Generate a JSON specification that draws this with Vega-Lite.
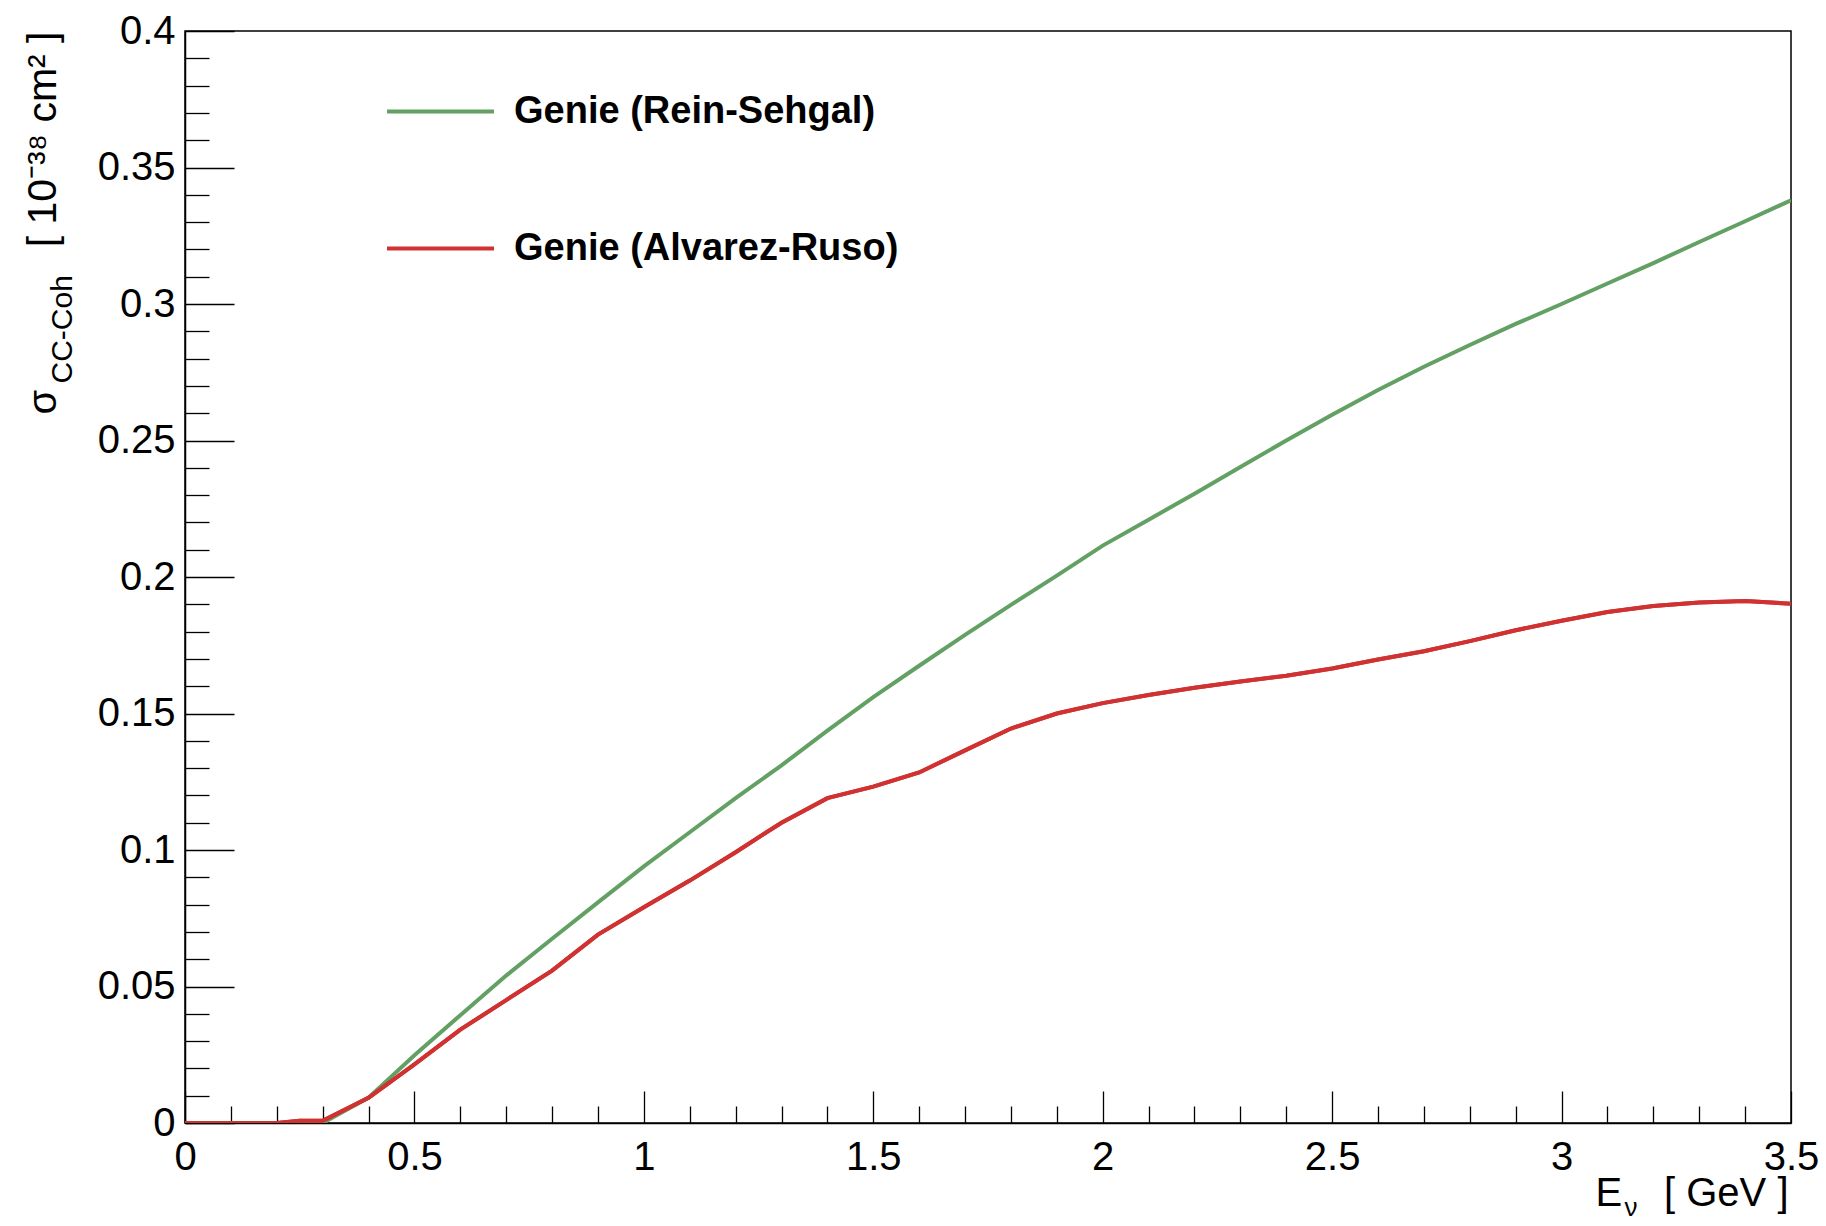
{
  "$schema": "https://vega.github.io/schema/vega-lite/v6.json",
  "width": 1606,
  "height": 1092,
  "autosize": "none",
  "padding": {"left": 185, "top": 31, "right": 35, "bottom": 103},
  "background": "white",
  "data": {
    "values": [
      {"E": 0.0, "sigma": 0.0, "model": "Genie (Rein-Sehgal)"},
      {"E": 0.1, "sigma": 0.0, "model": "Genie (Rein-Sehgal)"},
      {"E": 0.2, "sigma": 0.0, "model": "Genie (Rein-Sehgal)"},
      {"E": 0.3, "sigma": 0.0, "model": "Genie (Rein-Sehgal)"},
      {"E": 0.4, "sigma": 0.0093, "model": "Genie (Rein-Sehgal)"},
      {"E": 0.5, "sigma": 0.0248, "model": "Genie (Rein-Sehgal)"},
      {"E": 0.6, "sigma": 0.0395, "model": "Genie (Rein-Sehgal)"},
      {"E": 0.7, "sigma": 0.0540, "model": "Genie (Rein-Sehgal)"},
      {"E": 0.8, "sigma": 0.0675, "model": "Genie (Rein-Sehgal)"},
      {"E": 0.9, "sigma": 0.0808, "model": "Genie (Rein-Sehgal)"},
      {"E": 1.0, "sigma": 0.0940, "model": "Genie (Rein-Sehgal)"},
      {"E": 1.1, "sigma": 0.1065, "model": "Genie (Rein-Sehgal)"},
      {"E": 1.2, "sigma": 0.1190, "model": "Genie (Rein-Sehgal)"},
      {"E": 1.3, "sigma": 0.1310, "model": "Genie (Rein-Sehgal)"},
      {"E": 1.4, "sigma": 0.1437, "model": "Genie (Rein-Sehgal)"},
      {"E": 1.5, "sigma": 0.1560, "model": "Genie (Rein-Sehgal)"},
      {"E": 1.6, "sigma": 0.1675, "model": "Genie (Rein-Sehgal)"},
      {"E": 1.7, "sigma": 0.1788, "model": "Genie (Rein-Sehgal)"},
      {"E": 1.8, "sigma": 0.1898, "model": "Genie (Rein-Sehgal)"},
      {"E": 1.9, "sigma": 0.2005, "model": "Genie (Rein-Sehgal)"},
      {"E": 2.0, "sigma": 0.2115, "model": "Genie (Rein-Sehgal)"},
      {"E": 2.1, "sigma": 0.2210, "model": "Genie (Rein-Sehgal)"},
      {"E": 2.2, "sigma": 0.2305, "model": "Genie (Rein-Sehgal)"},
      {"E": 2.3, "sigma": 0.2403, "model": "Genie (Rein-Sehgal)"},
      {"E": 2.4, "sigma": 0.2500, "model": "Genie (Rein-Sehgal)"},
      {"E": 2.5, "sigma": 0.2594, "model": "Genie (Rein-Sehgal)"},
      {"E": 2.6, "sigma": 0.2685, "model": "Genie (Rein-Sehgal)"},
      {"E": 2.7, "sigma": 0.2770, "model": "Genie (Rein-Sehgal)"},
      {"E": 2.8, "sigma": 0.2850, "model": "Genie (Rein-Sehgal)"},
      {"E": 2.9, "sigma": 0.2927, "model": "Genie (Rein-Sehgal)"},
      {"E": 3.0, "sigma": 0.3000, "model": "Genie (Rein-Sehgal)"},
      {"E": 3.1, "sigma": 0.3075, "model": "Genie (Rein-Sehgal)"},
      {"E": 3.2, "sigma": 0.3150, "model": "Genie (Rein-Sehgal)"},
      {"E": 3.3, "sigma": 0.3227, "model": "Genie (Rein-Sehgal)"},
      {"E": 3.4, "sigma": 0.3303, "model": "Genie (Rein-Sehgal)"},
      {"E": 3.5, "sigma": 0.3380, "model": "Genie (Rein-Sehgal)"},
      {"E": 0.0, "sigma": 0.0, "model": "Genie (Alvarez-Ruso)"},
      {"E": 0.1, "sigma": 0.0, "model": "Genie (Alvarez-Ruso)"},
      {"E": 0.2, "sigma": 0.0, "model": "Genie (Alvarez-Ruso)"},
      {"E": 0.25, "sigma": 0.0008, "model": "Genie (Alvarez-Ruso)"},
      {"E": 0.3, "sigma": 0.0008, "model": "Genie (Alvarez-Ruso)"},
      {"E": 0.4, "sigma": 0.0092, "model": "Genie (Alvarez-Ruso)"},
      {"E": 0.5, "sigma": 0.0215, "model": "Genie (Alvarez-Ruso)"},
      {"E": 0.6, "sigma": 0.0342, "model": "Genie (Alvarez-Ruso)"},
      {"E": 0.7, "sigma": 0.0450, "model": "Genie (Alvarez-Ruso)"},
      {"E": 0.8, "sigma": 0.0558, "model": "Genie (Alvarez-Ruso)"},
      {"E": 0.9, "sigma": 0.0690, "model": "Genie (Alvarez-Ruso)"},
      {"E": 1.0, "sigma": 0.0790, "model": "Genie (Alvarez-Ruso)"},
      {"E": 1.1, "sigma": 0.0888, "model": "Genie (Alvarez-Ruso)"},
      {"E": 1.2, "sigma": 0.0992, "model": "Genie (Alvarez-Ruso)"},
      {"E": 1.3, "sigma": 0.1100, "model": "Genie (Alvarez-Ruso)"},
      {"E": 1.4, "sigma": 0.1190, "model": "Genie (Alvarez-Ruso)"},
      {"E": 1.5, "sigma": 0.1232, "model": "Genie (Alvarez-Ruso)"},
      {"E": 1.6, "sigma": 0.1284, "model": "Genie (Alvarez-Ruso)"},
      {"E": 1.7, "sigma": 0.1365, "model": "Genie (Alvarez-Ruso)"},
      {"E": 1.8, "sigma": 0.1445, "model": "Genie (Alvarez-Ruso)"},
      {"E": 1.9, "sigma": 0.1500, "model": "Genie (Alvarez-Ruso)"},
      {"E": 2.0, "sigma": 0.1538, "model": "Genie (Alvarez-Ruso)"},
      {"E": 2.1, "sigma": 0.1568, "model": "Genie (Alvarez-Ruso)"},
      {"E": 2.2, "sigma": 0.1594, "model": "Genie (Alvarez-Ruso)"},
      {"E": 2.3, "sigma": 0.1617, "model": "Genie (Alvarez-Ruso)"},
      {"E": 2.4, "sigma": 0.1638, "model": "Genie (Alvarez-Ruso)"},
      {"E": 2.5, "sigma": 0.1665, "model": "Genie (Alvarez-Ruso)"},
      {"E": 2.6, "sigma": 0.1698, "model": "Genie (Alvarez-Ruso)"},
      {"E": 2.7, "sigma": 0.1728, "model": "Genie (Alvarez-Ruso)"},
      {"E": 2.8, "sigma": 0.1765, "model": "Genie (Alvarez-Ruso)"},
      {"E": 2.9, "sigma": 0.1805, "model": "Genie (Alvarez-Ruso)"},
      {"E": 3.0, "sigma": 0.1840, "model": "Genie (Alvarez-Ruso)"},
      {"E": 3.1, "sigma": 0.1872, "model": "Genie (Alvarez-Ruso)"},
      {"E": 3.2, "sigma": 0.1894, "model": "Genie (Alvarez-Ruso)"},
      {"E": 3.3, "sigma": 0.1907, "model": "Genie (Alvarez-Ruso)"},
      {"E": 3.4, "sigma": 0.1912, "model": "Genie (Alvarez-Ruso)"},
      {"E": 3.5, "sigma": 0.1902, "model": "Genie (Alvarez-Ruso)"}
    ]
  },
  "resolve": {"axis": {"x": "independent", "y": "independent"}},
  "layer": [
    {
      "transform": [{"filter": "datum.model === 'Genie (Rein-Sehgal)'"}],
      "mark": {"type": "line", "strokeWidth": 4, "clip": true},
      "encoding": {
        "x": {
          "field": "E", "type": "quantitative",
          "scale": {"domain": [0, 3.5], "nice": false, "zero": false},
          "axis": {
            "orient": "bottom",
            "values": [0, 0.5, 1, 1.5, 2, 2.5, 3, 3.5],
            "format": "~g",
            "labelFontSize": 40,
            "labelFlush": false,
            "labelOverlap": false,
            "tickSize": -32,
            "labelPadding": 46,
            "title": "[ GeV ]",
            "titleFontSize": 40,
            "titleX": 1603,
            "titleY": 82,
            "titleAlign": "right",
            "titleBaseline": "alphabetic"
          }
        },
        "y": {
          "field": "sigma", "type": "quantitative",
          "scale": {"domain": [0, 0.4], "nice": false},
          "axis": {
            "orient": "left",
            "values": [0, 0.05, 0.1, 0.15, 0.2, 0.25, 0.3, 0.35, 0.4],
            "format": "~g",
            "labelFontSize": 40,
            "labelFlush": false,
            "labelOverlap": false,
            "tickSize": -49,
            "labelPadding": 59,
            "title": "[ 10⁻³⁸ cm² ]",
            "titleFontSize": 41,
            "titleAngle": -90,
            "titleX": -130,
            "titleY": 0,
            "titleAlign": "right",
            "titleBaseline": "alphabetic"
          }
        },
        "color": {
          "field": "model", "type": "nominal",
          "scale": {"domain": ["Genie (Rein-Sehgal)", "Genie (Alvarez-Ruso)"], "range": ["#63a063", "#d03232"]},
          "legend": {"orient": "none", "legendX": 200, "legendY": 25, "title": null, "direction": "vertical"}
        }
      }
    },
    {
      "transform": [{"filter": "datum.model === 'Genie (Alvarez-Ruso)'"}],
      "mark": {"type": "line", "strokeWidth": 4, "clip": true},
      "encoding": {
        "x": {
          "field": "E", "type": "quantitative",
          "scale": {"domain": [0, 3.5], "nice": false, "zero": false},
          "axis": {
            "orient": "bottom",
            "values": [0.1, 0.2, 0.3, 0.4, 0.6, 0.7, 0.8, 0.9, 1.1, 1.2, 1.3, 1.4, 1.6, 1.7, 1.8, 1.9, 2.1, 2.2, 2.3, 2.4, 2.6, 2.7, 2.8, 2.9, 3.1, 3.2, 3.3, 3.4],
            "labels": false,
            "domain": false,
            "tickSize": -17,
            "title": "E",
            "titleFontSize": 40,
            "titleX": 1410,
            "titleY": 82,
            "titleAlign": "left",
            "titleBaseline": "alphabetic"
          }
        },
        "y": {
          "field": "sigma", "type": "quantitative",
          "scale": {"domain": [0, 0.4], "nice": false},
          "axis": {
            "orient": "left",
            "values": [0.01, 0.02, 0.03, 0.04, 0.06, 0.07, 0.08, 0.09, 0.11, 0.12, 0.13, 0.14, 0.16, 0.17, 0.18, 0.19, 0.21, 0.22, 0.23, 0.24, 0.26, 0.27, 0.28, 0.29, 0.31, 0.32, 0.33, 0.34, 0.36, 0.37, 0.38, 0.39],
            "labels": false,
            "domain": false,
            "tickSize": -24,
            "title": "σ",
            "titleFontSize": 40,
            "titleAngle": -90,
            "titleX": -130,
            "titleY": 383,
            "titleAlign": "left",
            "titleBaseline": "alphabetic"
          }
        },
        "color": {
          "field": "model", "type": "nominal",
          "scale": {"domain": ["Genie (Rein-Sehgal)", "Genie (Alvarez-Ruso)"], "range": ["#63a063", "#d03232"]},
          "legend": {"orient": "none", "legendX": 200, "legendY": 25, "title": null, "direction": "vertical"}
        }
      }
    },
    {
      "transform": [{"filter": "datum.model === 'Genie (Alvarez-Ruso)'"}],
      "mark": {"type": "line", "strokeWidth": 4, "clip": true},
      "encoding": {
        "x": {
          "field": "E", "type": "quantitative",
          "scale": {"domain": [0, 3.5], "nice": false, "zero": false},
          "axis": {
            "orient": "bottom",
            "labels": false,
            "domain": false,
            "ticks": false,
            "title": "ν",
            "titleFontSize": 26,
            "titleX": 1439,
            "titleY": 92,
            "titleAlign": "left",
            "titleBaseline": "alphabetic"
          }
        },
        "y": {
          "field": "sigma", "type": "quantitative",
          "scale": {"domain": [0, 0.4], "nice": false},
          "axis": {
            "orient": "left",
            "labels": false,
            "domain": false,
            "ticks": false,
            "title": "CC-Coh",
            "titleFontSize": 30,
            "titleAngle": -90,
            "titleX": -114,
            "titleY": 352,
            "titleAlign": "left",
            "titleBaseline": "alphabetic"
          }
        },
        "color": {
          "field": "model", "type": "nominal",
          "scale": {"domain": ["Genie (Rein-Sehgal)", "Genie (Alvarez-Ruso)"], "range": ["#63a063", "#d03232"]},
          "legend": {"orient": "none", "legendX": 200, "legendY": 25, "title": null, "direction": "vertical"}
        }
      }
    }
  ],
  "config": {
    "font": "Liberation Sans",
    "view": {"stroke": "black", "strokeWidth": 1.5},
    "axis": {
      "grid": false,
      "domainColor": "black",
      "domainWidth": 1.5,
      "tickColor": "black",
      "tickWidth": 1.3,
      "labelColor": "black",
      "titleColor": "black",
      "labelFont": "Liberation Sans",
      "titleFont": "Liberation Sans",
      "titleFontWeight": "normal"
    },
    "legend": {
      "symbolType": "stroke",
      "symbolSize": 11449,
      "symbolStrokeWidth": 4,
      "labelFontSize": 38,
      "labelFontWeight": "bold",
      "labelFont": "Liberation Sans",
      "labelColor": "black",
      "labelOffset": 18,
      "rowPadding": 62,
      "padding": 0,
      "labelLimit": 700
    }
  }
}
